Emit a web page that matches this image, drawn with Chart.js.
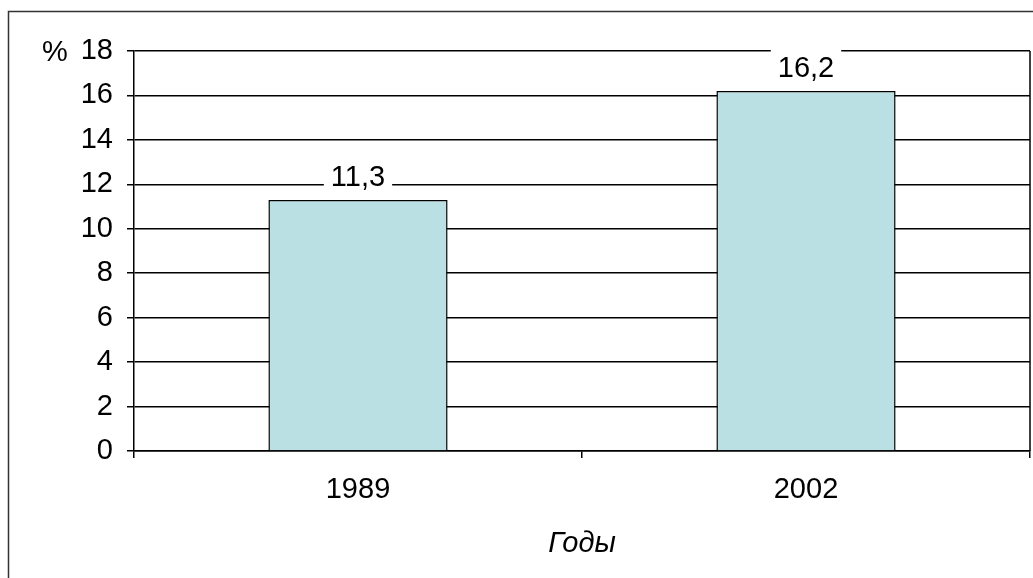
<!DOCTYPE html>
<html>
<head>
<meta charset="utf-8">
<script src="https://cdn.jsdelivr.net/npm/chart.js@4/dist/chart.umd.min.js"></script>
<style>
  html, body { margin: 0; padding: 0; background: #fff; }
  #wrap { width: 1033px; height: 578px; position: relative; }
</style>
</head>
<body>
<div id="wrap"><canvas id="chart" width="1033" height="578"></canvas></div>
<script>
const years = ['1989', '2002'];
const shares = [11.3, 16.2];
const yTicks = [0, 2, 4, 6, 8, 10, 12, 14, 16, 18];

const FONT = '"Liberation Sans", Arial, sans-serif';
const SIZE = 29;

// outer frame, plot frame, "%" unit and value labels
const decor = {
  id: 'decor',
  beforeDraw(chart) {
    const ctx = chart.ctx;
    ctx.save();
    ctx.fillStyle = '#fff';
    ctx.fillRect(0, 0, chart.width, chart.height);
    ctx.strokeStyle = '#333';
    ctx.lineWidth = 1.5;
    ctx.strokeRect(8.5, 11.5, 1200, 800);
    ctx.restore();
  },
  afterDraw(chart) {
    const ctx = chart.ctx;
    const a = chart.chartArea;
    ctx.save();
    ctx.strokeStyle = '#000';
    ctx.lineWidth = 1.5;
    ctx.beginPath();
    ctx.moveTo(a.right, a.top);
    ctx.lineTo(a.right, a.bottom);
    ctx.stroke();

    ctx.fillStyle = '#000';
    ctx.font = SIZE + 'px ' + FONT;
    ctx.textBaseline = 'middle';
    ctx.textAlign = 'center';
    ctx.fillText('%', 55, chart.scales.y.getPixelForValue(18) + 2);

    const meta = chart.getDatasetMeta(0);
    meta.data.forEach((bar, i) => {
      const txt = shares[i].toFixed(1).replace('.', ',');
      const w = ctx.measureText(txt).width + 14;
      const cy = bar.y - 23;
      ctx.fillStyle = '#fff';
      ctx.fillRect(bar.x - w / 2, cy - 18, w, 36);
      ctx.fillStyle = '#000';
      ctx.fillText(txt, bar.x, cy + 1);
    });
    ctx.restore();
  }
};

new Chart(document.getElementById('chart'), {
  type: 'bar',
  data: {
    labels: years,
    datasets: [{
      data: shares,
      backgroundColor: '#BBE0E3',
      borderColor: '#000',
      borderWidth: 1.5,
      categoryPercentage: 1,
      barPercentage: 0.4
    }]
  },
  options: {
    responsive: false,
    animation: false,
    layout: { padding: { top: 51, right: 3, left: 0, bottom: 0 } },
    plugins: { legend: { display: false }, tooltip: { enabled: false } },
    scales: {
      x: {
        offset: true,
        grid: { offset: true, drawOnChartArea: false, color: '#000', lineWidth: 1.5, tickLength: 7 },
        border: { color: '#000', width: 1.5 },
        ticks: { color: '#000', font: { family: FONT, size: SIZE }, padding: 15 },
        title: {
          display: true, text: 'Годы', color: '#000',
          font: { family: FONT, size: SIZE, style: 'italic' }, padding: { top: 10, bottom: 17 }
        },
        afterFit(s) { s.height = 127; }
      },
      y: {
        min: 0, max: 18,
        afterBuildTicks(s) { s.ticks = yTicks.map(v => ({ value: v })); },
        grid: { color: '#000', lineWidth: 1.5, tickLength: 7 },
        border: { color: '#000', width: 1.5 },
        ticks: { color: '#000', font: { family: FONT, size: SIZE }, padding: 14 },
        afterFit(s) { s.width = 134; }
      }
    }
  },
  plugins: [decor]
});
</script>
</body>
</html>
